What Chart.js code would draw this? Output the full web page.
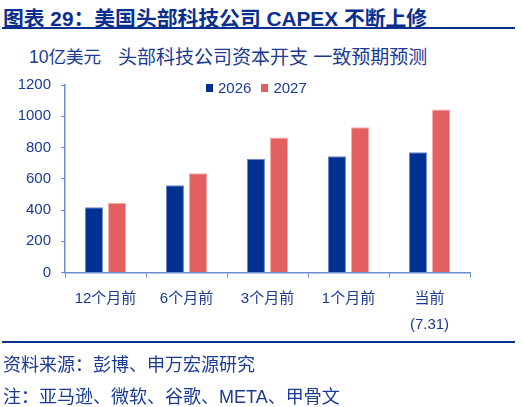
<!DOCTYPE html>
<html lang="zh">
<head>
<meta charset="UTF-8">
<title>美国头部科技公司 CAPEX 不断上修</title>
<script src="https://cdn.jsdelivr.net/npm/chart.js"></script>
<style>
  body { margin: 0; padding: 0; background: #fff; font-family: "Liberation Sans", Arial, "Noto Sans CJK SC", sans-serif; }
  #wrap { position: relative; width: 523px; height: 407px; overflow: hidden; }
  .txt { position: absolute; white-space: nowrap; color: #1a3a94; }
  #title { left: 3px; top: 2px; font-size: 20.8px; font-weight: bold; color: #0b2f8e; }
  .rule { position: absolute; left: 2px; width: 513px; height: 2px; background: #0b3190; }
  #unit { left: 29px; top: 43px; font-size: 17.5px; }
  #sub { left: 118px; top: 42px; font-size: 19px; }
  #src { left: 3px; top: 350px; font-size: 18px; }
  #note { left: 3px; top: 382px; font-size: 18px; }
  #chartBox { position: absolute; left: 0; top: 0; width: 523px; height: 407px; }
  #legend { position: absolute; left: 206px; top: 79px; display: flex; font-size: 15px; color: #1a3a94; z-index: 2; }
  #legend .item { display: flex; align-items: center; margin-right: 10px; }
  #legend .box { width: 7px; height: 8px; margin-right: 5px; }
</style>
</head>
<body>
<div id="wrap">
  <div class="txt" id="title">图表 29：美国头部科技公司 CAPEX 不断上修</div>
  <div class="rule" style="top:27px"></div>
  <div class="txt" id="unit">10亿美元</div>
  <div class="txt" id="sub">头部科技公司资本开支 一致预期预测</div>
  <div id="chartBox"><canvas id="c" width="523" height="407"></canvas></div>
  <div id="legend"></div>
  <div class="rule" style="top:341px"></div>
  <div class="txt" id="src">资料来源：彭博、申万宏源研究</div>
  <div class="txt" id="note">注：亚马逊、微软、谷歌、META、甲骨文</div>
</div>
<script>
  const categories = [['12个月前'], ['6个月前'], ['3个月前'], ['1个月前'], ['当前', '(7.31)']];
  const capex2026 = [417, 558, 727, 744, 770];
  const capex2027 = [445, 635, 864, 930, 1044];
  const yTicks = [0, 200, 400, 600, 800, 1000, 1200];

  const textBlue = '#1a3a94';
  const axisBlue = '#6b8fca';

  const chart = new Chart(document.getElementById('c'), {
    type: 'bar',
    data: {
      labels: categories,
      datasets: [
        { label: '2026', data: capex2026, backgroundColor: '#003192', borderColor: '#6a86c8', borderWidth: 1 },
        { label: '2027', data: capex2027, backgroundColor: '#e45f5f', borderColor: '#f3a7a7', borderWidth: 1 }
      ]
    },
    options: {
      responsive: false,
      animation: false,
      devicePixelRatio: 1,
      categoryPercentage: 0.57,
      barPercentage: 0.78,
      layout: { padding: { top: 85, right: 53, bottom: 61, left: 0 } },
      plugins: {
        tooltip: { enabled: false },
        legend: { display: false }
      },
      scales: {
        x: {
          offset: true,
          grid: { display: true, drawOnChartArea: false, offset: true, color: axisBlue, tickLength: 5 },
          border: { color: axisBlue, width: 1.5 },
          ticks: {
            color: textBlue, padding: 8, maxRotation: 0,
            font: { family: '"Liberation Sans", Arial, "Noto Sans CJK SC"', size: 15, lineHeight: 1.75 }
          }
        },
        y: {
          min: 0, max: 1200,
          afterFit: s => { s.width = 65; },
          afterBuildTicks: s => { s.ticks = yTicks.map(v => ({ value: v })); },
          grid: { display: true, drawOnChartArea: false, color: axisBlue, tickLength: 4 },
          border: { color: axisBlue, width: 1.5 },
          ticks: {
            color: textBlue, padding: 10,
            callback: v => String(v),
            font: { family: '"Liberation Sans", Arial', size: 15 }
          }
        }
      }
    }
  });

  // legend sits inside the plot area, so build it from the chart's own legend items
  const legendEl = document.getElementById('legend');
  chart.options.plugins.legend.labels.generateLabels(chart).forEach(it => {
    const item = document.createElement('div');
    item.className = 'item';
    item.innerHTML = '<span class="box" style="background:' + chart.data.datasets[it.datasetIndex].backgroundColor + '"></span><span>' + it.text + '</span>';
    legendEl.appendChild(item);
  });
</script>
</body>
</html>
